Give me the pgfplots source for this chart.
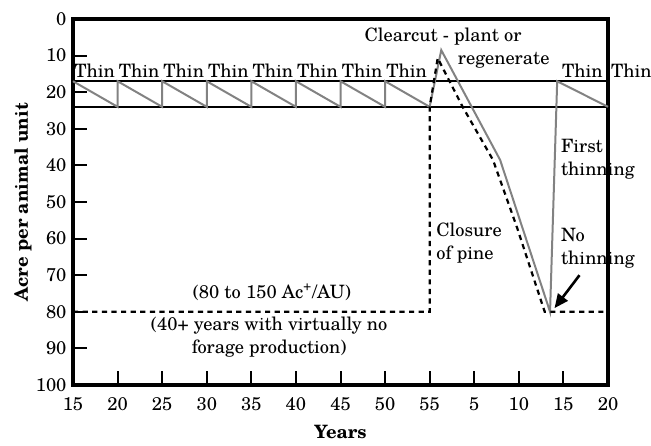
\documentclass[border=0pt]{standalone}
\usepackage{fontspec}
\setmainfont{TeX Gyre Schola}
\usepackage{pgfplots}
\pgfplotsset{compat=1.18}
\usetikzlibrary{arrows.meta}
\definecolor{lgray}{RGB}{130,130,130}
\begin{document}
\fontsize{9.2pt}{11.5pt}\selectfont
\begin{tikzpicture}
\begin{axis}[
  at={(0pt,0pt)}, anchor=south west,
  scale only axis,
  width=267.5pt, height=183pt,
  xmin=15, xmax=75, ymin=0, ymax=100,
  y dir=reverse,
  xtick={15,20,...,75},
  xticklabels={15,20,25,30,35,40,45,50,55,5,10,15,20},
  ytick={0,10,...,100},
  tick pos=left,
  tick align=inside,
  major tick length=7pt,
  tick style={black, line width=1pt},
  axis line style={black, line width=1.7pt},
  /pgf/number format/assume math mode=true,
  xticklabel style={yshift=-3pt},
  xlabel={\textbf{Years}},
  xlabel style={at={(axis description cs:0.5,-0.128)}, anchor=center},
  ylabel={\textbf{Acre per animal unit}},
  ylabel style={at={(axis description cs:-0.0935,0.5)}, anchor=center},
  clip=false,
]
% band lines
\addplot[black, line width=1pt] coordinates {(15,17) (75,17)};
\addplot[black, line width=1pt] coordinates {(15,24) (75,24)};
% gray sawtooth / growth line
\addplot[lgray, line width=1pt] coordinates {
(15,17) (20,24) (20,17) (25,24) (25,17) (30,24) (30,17) (35,24) (35,17)
(40,24) (40,17) (45,24) (45,17) (50,24) (50,17) (55,24)
(56.3,8.5) (62.9,38.5) (68.5,80) (69.3,17) (75,24)};
% dashed no-thinning line
\addplot[black, line width=1.1pt, dash pattern=on 2.6pt off 2.2pt] coordinates {
(15,80) (55,80) (55,24) (55.9,10.7) (58.7,24) (62.1,38.5) (64.8,57) (67.9,80) (75,80)};
% Thin labels
\foreach \xx in {15,20,25,30,35,40,45,50} {
  \edef\temp{\noexpand\node[anchor=west, inner sep=0pt] at (axis cs:\xx.1,14) {Thin};}
  \temp
}
\node[anchor=west, inner sep=0pt] at (axis cs:69.8,14) {Thin};
\node[anchor=west, inner sep=0pt] at (axis cs:75.3,14) {Thin};
\node[inner sep=0pt] at (axis cs:56.5,4.9) {Clearcut - plant or};
\node[inner sep=0pt] at (axis cs:63.3,11.2) {regenerate};
\node[anchor=west, align=left, inner sep=0pt] at (axis cs:69.7,38.2) {First\\thinning};
\node[anchor=west, align=left, inner sep=0pt] at (axis cs:55.7,61.1) {Closure\\of pine};
\node[anchor=west, align=left, inner sep=0pt] at (axis cs:69.7,62.6) {No\\thinning};
\node[inner sep=0pt] at (axis cs:37.3,74.6) {(80 to 150 Ac\textsuperscript{+}/AU)};
\node[align=center, inner sep=0pt] at (axis cs:37,87) {(40+ years with virtually no\\forage production)};
\draw[line width=1.3pt, -{Triangle[length=7pt, width=6pt]}] (axis cs:71.8,70) -- (axis cs:69.0,79);
\end{axis}
\pgfresetboundingbox
\path[use as bounding box] (-36.5pt,-30pt) rectangle (289pt,192.5pt);
\end{tikzpicture}
\end{document}
